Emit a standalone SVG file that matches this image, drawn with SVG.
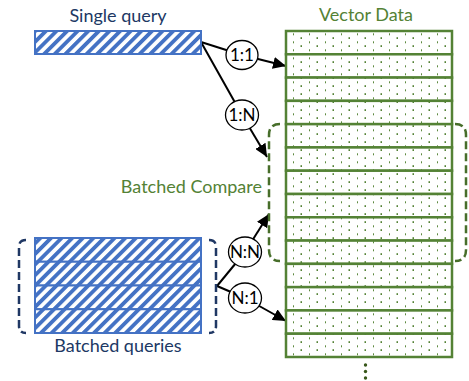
<svg xmlns="http://www.w3.org/2000/svg" width="469" height="381" viewBox="0 0 469 381">
<defs>
<style>
.lbl{font-family:Lato,"Open Sans",sans-serif;font-size:18px}
.blue{fill:#203864}
.green{fill:#548235}
.clbl{font-family:Lato,"Open Sans",sans-serif;font-size:17px;fill:#000;text-anchor:middle}
.conn{stroke:#000;stroke-width:2;fill:none}
.circ{fill:#fff;stroke:#000;stroke-width:1.3}
.qbox{fill:url(#hatch);stroke:#4472C4;stroke-width:2}
.row{fill:url(#dots);stroke:#548235;stroke-width:2.5}
.bbr{fill:none;stroke:#203864;stroke-width:2.5;stroke-dasharray:8 4}
.gbr{fill:none;stroke:#476E2A;stroke-width:2.5;stroke-dasharray:8 4}
</style>
<pattern id="hatch" patternUnits="userSpaceOnUse" width="7.5" height="7.5" patternTransform="rotate(45)">
<rect width="7.5" height="7.5" fill="#fff"/>
<rect width="3.8" height="7.5" fill="#4472C4"/>
</pattern>
<pattern id="dots" patternUnits="userSpaceOnUse" x="286" y="31" width="16" height="8">
<rect width="16" height="8" fill="#fff"/>
<rect x="7" y="2.3" width="1" height="2" fill="#5E8A40"/>
<rect x="14.5" y="6.2" width="2" height="2" fill="#548235"/>
</pattern>
<marker id="ah" markerUnits="userSpaceOnUse" markerWidth="14" markerHeight="12" refX="13" refY="6" orient="auto">
<path d="M0,0 L13,6 L0,12 Z" fill="#000"/>
</marker>
</defs>
<rect width="469" height="381" fill="#fff"/>

<g id="connectors">
<line class="conn" x1="201" y1="42" x2="242" y2="55"/>
<line class="conn" x1="242" y1="55" x2="286" y2="66" marker-end="url(#ah)"/>
<line class="conn" x1="201" y1="42" x2="242" y2="115"/>
<line class="conn" x1="242" y1="115" x2="267" y2="157" marker-end="url(#ah)"/>
<line class="conn" x1="217" y1="286" x2="245" y2="252"/>
<line class="conn" x1="245" y1="252" x2="269" y2="214" marker-end="url(#ah)"/>
<line class="conn" x1="217" y1="286" x2="245" y2="298"/>
<line class="conn" x1="245" y1="298" x2="286" y2="321" marker-end="url(#ah)"/>
</g>

<g id="single-query">
<text class="lbl blue" x="118" y="22" text-anchor="middle">Single query</text>
<rect class="qbox" x="35" y="31" width="166" height="23"/>
</g>

<g id="batched-queries">
<path class="bbr" d="M26 240 Q19 240 19 247 L19 326 Q19 333 26 333"/>
<path class="bbr" d="M209 240 Q216 240 216 247 L216 326 Q216 333 209 333"/>
<rect class="qbox" x="35" y="238" width="166" height="23.75"/>
<rect class="qbox" x="35" y="261.75" width="166" height="23.75"/>
<rect class="qbox" x="35" y="285.5" width="166" height="23.75"/>
<rect class="qbox" x="35" y="309.25" width="166" height="23.75"/>
<text class="lbl blue" x="118" y="352" text-anchor="middle">Batched queries</text>
</g>

<g id="vector-data">
<text class="lbl green" x="366" y="21" text-anchor="middle">Vector Data</text>
<rect class="row" x="286" y="31" width="166" height="23.29"/>
<rect class="row" x="286" y="54.29" width="166" height="23.29"/>
<rect class="row" x="286" y="77.57" width="166" height="23.29"/>
<rect class="row" x="286" y="100.86" width="166" height="23.29"/>
<rect class="row" x="286" y="124.14" width="166" height="23.29"/>
<rect class="row" x="286" y="147.43" width="166" height="23.29"/>
<rect class="row" x="286" y="170.71" width="166" height="23.29"/>
<rect class="row" x="286" y="194" width="166" height="23.29"/>
<rect class="row" x="286" y="217.29" width="166" height="23.29"/>
<rect class="row" x="286" y="240.57" width="166" height="23.29"/>
<rect class="row" x="286" y="263.86" width="166" height="23.29"/>
<rect class="row" x="286" y="287.14" width="166" height="23.29"/>
<rect class="row" x="286" y="310.43" width="166" height="23.29"/>
<rect class="row" x="286" y="333.71" width="166" height="23.29"/>
<circle cx="365.5" cy="365" r="1.7" fill="#38571A"/>
<circle cx="365.5" cy="371.5" r="1.7" fill="#38571A"/>
<circle cx="365.5" cy="378" r="1.7" fill="#38571A"/>
</g>

<g id="batched-compare">
<path class="gbr" d="M280 124 Q269 124 269 135 L269 250 Q269 261 280 261"/>
<path class="gbr" d="M455 124 Q466 124 466 135 L466 250 Q466 261 455 261"/>
<text class="lbl green" x="262" y="193" text-anchor="end">Batched Compare</text>
</g>

<g id="c11"><ellipse class="circ" cx="242" cy="55" rx="16" ry="14.5"/><text class="clbl" x="242" y="61">1:1</text></g>
<g id="c1n"><ellipse class="circ" cx="242" cy="115" rx="16.5" ry="15"/><text class="clbl" x="242" y="121">1:N</text></g>
<g id="cnn"><ellipse class="circ" cx="245" cy="252" rx="16.5" ry="15"/><text class="clbl" x="245" y="258">N:N</text></g>
<g id="cn1"><ellipse class="circ" cx="245" cy="298" rx="16.5" ry="15"/><text class="clbl" x="245" y="304">N:1</text></g>
</svg>
